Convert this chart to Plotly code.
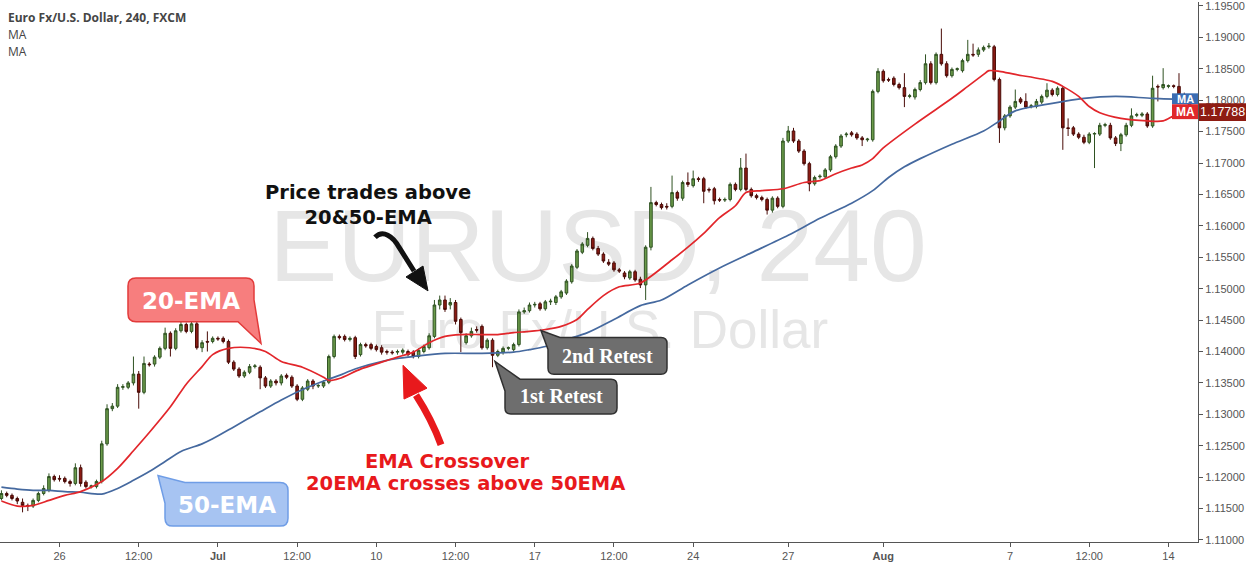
import plotly.graph_objects as go

# ---------------- data (EUR/USD, 4h bars; bar index as x) ----------------
bar_index = list(range(-1, 225))

open_ = [
    1.1166, 1.1174, 1.1171, 1.1166, 1.1160, 1.1155, 1.1154, 1.1163, 1.1174, 1.1179,
    1.1201, 1.1198, 1.1198, 1.1193, 1.1190, 1.1215, 1.1192, 1.1185, 1.1185, 1.1193,
    1.1253, 1.1309, 1.1313, 1.1343, 1.1343, 1.1350, 1.1364, 1.1335, 1.1380, 1.1380,
    1.1391, 1.1405, 1.1429, 1.1405, 1.1433, 1.1443, 1.1432, 1.1444, 1.1406, 1.1416,
    1.1416, 1.1421, 1.1421, 1.1416, 1.1383, 1.1372, 1.1361, 1.1367, 1.1376, 1.1375,
    1.1358, 1.1345, 1.1353, 1.1350, 1.1362, 1.1359, 1.1345, 1.1324, 1.1340, 1.1353,
    1.1345, 1.1345, 1.1351, 1.1392, 1.1424, 1.1424, 1.1419, 1.1422, 1.1395, 1.1411,
    1.1411, 1.1408, 1.1406, 1.1400, 1.1399, 1.1399, 1.1399, 1.1400, 1.1399, 1.1392,
    1.1400, 1.1406, 1.1424, 1.1474, 1.1482, 1.1474, 1.1478, 1.1451, 1.1414, 1.1425,
    1.1435, 1.1440, 1.1406, 1.1418, 1.1394, 1.1399, 1.1405, 1.1403, 1.1411, 1.1463,
    1.1465, 1.1474, 1.1476, 1.1468, 1.1479, 1.1478, 1.1487, 1.1493, 1.1511, 1.1534,
    1.1558, 1.1569, 1.1580, 1.1564, 1.1555, 1.1542, 1.1541, 1.1530, 1.1525, 1.1517,
    1.1527, 1.1515, 1.1506, 1.1566, 1.1637, 1.1634, 1.1631, 1.1631, 1.1653, 1.1644,
    1.1669, 1.1664, 1.1675, 1.1675, 1.1658, 1.1659, 1.1642, 1.1641, 1.1642, 1.1666,
    1.1658, 1.1692, 1.1658, 1.1648, 1.1645, 1.1642, 1.1625, 1.1644, 1.1631, 1.1735,
    1.1751, 1.1735, 1.1719, 1.1699, 1.1667, 1.1678, 1.1678, 1.1689, 1.1710, 1.1727,
    1.1745, 1.1748, 1.1746, 1.1740, 1.1737, 1.1737, 1.1814, 1.1846, 1.1833, 1.1835,
    1.1825, 1.1820, 1.1806, 1.1805, 1.1817, 1.1828, 1.1858, 1.1828, 1.1873, 1.1858,
    1.1839, 1.1849, 1.1847, 1.1863, 1.1873, 1.1873, 1.1880, 1.1885, 1.1885, 1.1833,
    1.1756, 1.1775, 1.1789, 1.1802, 1.1798, 1.1790, 1.1790, 1.1797, 1.1806, 1.1816,
    1.1809, 1.1819, 1.1756, 1.1756, 1.1746, 1.1741, 1.1733, 1.1746, 1.1746, 1.1760,
    1.1760, 1.1740, 1.1731, 1.1745, 1.1760, 1.1776, 1.1776, 1.1778, 1.1759, 1.1822,
    1.1820, 1.1822, 1.1823, 1.1822, 1.1809, 1.1800,
]
high = [
    1.1179, 1.1177, 1.1174, 1.1169, 1.1166, 1.1158, 1.1166, 1.1177, 1.1187, 1.1206,
    1.1204, 1.1203, 1.1201, 1.1196, 1.1222, 1.1220, 1.1195, 1.1188, 1.1196, 1.1258,
    1.1316, 1.1318, 1.1348, 1.1348, 1.1353, 1.1392, 1.1369, 1.1392, 1.1383, 1.1394,
    1.1408, 1.1438, 1.1432, 1.1437, 1.1448, 1.1446, 1.1448, 1.1448, 1.1418, 1.1432,
    1.1424, 1.1424, 1.1424, 1.1419, 1.1386, 1.1375, 1.1370, 1.1380, 1.1380, 1.1378,
    1.1361, 1.1356, 1.1356, 1.1364, 1.1365, 1.1362, 1.1348, 1.1345, 1.1356, 1.1356,
    1.1348, 1.1354, 1.1395, 1.1427, 1.1427, 1.1427, 1.1424, 1.1425, 1.1414, 1.1414,
    1.1414, 1.1411, 1.1410, 1.1403, 1.1402, 1.1403, 1.1405, 1.1403, 1.1402, 1.1405,
    1.1411, 1.1429, 1.1482, 1.1489, 1.1489, 1.1485, 1.1482, 1.1454, 1.1429, 1.1438,
    1.1440, 1.1443, 1.1421, 1.1421, 1.1403, 1.1408, 1.1408, 1.1414, 1.1467, 1.1470,
    1.1478, 1.1479, 1.1479, 1.1482, 1.1484, 1.1490, 1.1498, 1.1515, 1.1539, 1.1563,
    1.1574, 1.1590, 1.1583, 1.1568, 1.1558, 1.1547, 1.1544, 1.1533, 1.1528, 1.1530,
    1.1530, 1.1519, 1.1569, 1.1662, 1.1640, 1.1637, 1.1636, 1.1680, 1.1656, 1.1672,
    1.1685, 1.1688, 1.1678, 1.1678, 1.1661, 1.1662, 1.1645, 1.1645, 1.1669, 1.1669,
    1.1708, 1.1715, 1.1661, 1.1651, 1.1648, 1.1645, 1.1647, 1.1647, 1.1740, 1.1759,
    1.1756, 1.1738, 1.1722, 1.1702, 1.1680, 1.1682, 1.1692, 1.1713, 1.1730, 1.1746,
    1.1749, 1.1751, 1.1749, 1.1743, 1.1740, 1.1817, 1.1851, 1.1849, 1.1836, 1.1838,
    1.1828, 1.1843, 1.1810, 1.1820, 1.1832, 1.1873, 1.1862, 1.1876, 1.1914, 1.1862,
    1.1852, 1.1852, 1.1866, 1.1896, 1.1890, 1.1884, 1.1887, 1.1891, 1.1888, 1.1836,
    1.1778, 1.1792, 1.1817, 1.1805, 1.1811, 1.1794, 1.1802, 1.1809, 1.1827, 1.1819,
    1.1822, 1.1822, 1.1771, 1.1759, 1.1749, 1.1745, 1.1749, 1.1749, 1.1764, 1.1764,
    1.1764, 1.1743, 1.1748, 1.1764, 1.1787, 1.1780, 1.1781, 1.1781, 1.1839, 1.1825,
    1.1851, 1.1825, 1.1825, 1.1843, 1.1812, 1.1803,
]
low = [
    1.1163, 1.1168, 1.1163, 1.1157, 1.1144, 1.1146, 1.1151, 1.1160, 1.1171, 1.1176,
    1.1193, 1.1193, 1.1190, 1.1185, 1.1187, 1.1185, 1.1182, 1.1182, 1.1182, 1.1190,
    1.1250, 1.1305, 1.1310, 1.1339, 1.1340, 1.1346, 1.1309, 1.1332, 1.1376, 1.1376,
    1.1388, 1.1402, 1.1392, 1.1402, 1.1430, 1.1429, 1.1429, 1.1403, 1.1399, 1.1400,
    1.1413, 1.1417, 1.1413, 1.1380, 1.1369, 1.1358, 1.1358, 1.1364, 1.1373, 1.1340,
    1.1342, 1.1342, 1.1346, 1.1346, 1.1356, 1.1342, 1.1321, 1.1321, 1.1337, 1.1340,
    1.1342, 1.1342, 1.1348, 1.1389, 1.1419, 1.1416, 1.1416, 1.1388, 1.1392, 1.1406,
    1.1402, 1.1400, 1.1395, 1.1395, 1.1395, 1.1395, 1.1395, 1.1392, 1.1389, 1.1389,
    1.1397, 1.1403, 1.1421, 1.1467, 1.1463, 1.1467, 1.1443, 1.1399, 1.1411, 1.1422,
    1.1430, 1.1403, 1.1403, 1.1375, 1.1391, 1.1395, 1.1402, 1.1400, 1.1408, 1.1460,
    1.1462, 1.1470, 1.1465, 1.1465, 1.1474, 1.1474, 1.1484, 1.1490, 1.1508, 1.1531,
    1.1555, 1.1566, 1.1561, 1.1552, 1.1541, 1.1536, 1.1527, 1.1525, 1.1515, 1.1514,
    1.1511, 1.1501, 1.1482, 1.1561, 1.1631, 1.1626, 1.1626, 1.1628, 1.1640, 1.1640,
    1.1662, 1.1661, 1.1670, 1.1636, 1.1653, 1.1634, 1.1638, 1.1638, 1.1639, 1.1655,
    1.1655, 1.1655, 1.1645, 1.1642, 1.1639, 1.1618, 1.1621, 1.1628, 1.1628, 1.1732,
    1.1732, 1.1716, 1.1696, 1.1655, 1.1664, 1.1675, 1.1675, 1.1686, 1.1707, 1.1724,
    1.1741, 1.1742, 1.1737, 1.1727, 1.1734, 1.1734, 1.1811, 1.1828, 1.1829, 1.1822,
    1.1817, 1.1789, 1.1803, 1.1801, 1.1814, 1.1825, 1.1825, 1.1825, 1.1855, 1.1836,
    1.1836, 1.1846, 1.1844, 1.1860, 1.1869, 1.1869, 1.1877, 1.1882, 1.1830, 1.1732,
    1.1752, 1.1772, 1.1786, 1.1794, 1.1786, 1.1787, 1.1787, 1.1794, 1.1803, 1.1806,
    1.1806, 1.1721, 1.1743, 1.1743, 1.1738, 1.1730, 1.1730, 1.1692, 1.1743, 1.1757,
    1.1737, 1.1727, 1.1719, 1.1742, 1.1757, 1.1773, 1.1773, 1.1756, 1.1756, 1.1798,
    1.1817, 1.1819, 1.1819, 1.1806, 1.1800, 1.1776,
]
close = [
    1.1174, 1.1171, 1.1166, 1.1162, 1.1155, 1.1154, 1.1163, 1.1174, 1.1182, 1.1201,
    1.1196, 1.1197, 1.1193, 1.1190, 1.1215, 1.1190, 1.1185, 1.1186, 1.1193, 1.1253,
    1.1309, 1.1313, 1.1343, 1.1344, 1.1350, 1.1364, 1.1335, 1.1381, 1.1379, 1.1391,
    1.1405, 1.1429, 1.1405, 1.1433, 1.1443, 1.1432, 1.1444, 1.1406, 1.1414, 1.1415,
    1.1421, 1.1420, 1.1416, 1.1383, 1.1372, 1.1361, 1.1367, 1.1376, 1.1377, 1.1358,
    1.1345, 1.1353, 1.1350, 1.1361, 1.1359, 1.1345, 1.1324, 1.1342, 1.1353, 1.1345,
    1.1346, 1.1351, 1.1392, 1.1424, 1.1422, 1.1419, 1.1421, 1.1392, 1.1411, 1.1409,
    1.1405, 1.1403, 1.1399, 1.1399, 1.1398, 1.1400, 1.1402, 1.1395, 1.1392, 1.1402,
    1.1408, 1.1425, 1.1474, 1.1482, 1.1467, 1.1478, 1.1448, 1.1430, 1.1425, 1.1432,
    1.1434, 1.1406, 1.1418, 1.1394, 1.1400, 1.1405, 1.1406, 1.1411, 1.1463, 1.1465,
    1.1474, 1.1475, 1.1468, 1.1479, 1.1480, 1.1487, 1.1495, 1.1512, 1.1536, 1.1560,
    1.1571, 1.1580, 1.1564, 1.1555, 1.1544, 1.1539, 1.1530, 1.1528, 1.1519, 1.1527,
    1.1514, 1.1506, 1.1566, 1.1637, 1.1634, 1.1629, 1.1630, 1.1653, 1.1644, 1.1669,
    1.1666, 1.1675, 1.1674, 1.1655, 1.1657, 1.1640, 1.1641, 1.1642, 1.1666, 1.1658,
    1.1692, 1.1658, 1.1648, 1.1645, 1.1642, 1.1625, 1.1644, 1.1631, 1.1735, 1.1751,
    1.1735, 1.1719, 1.1699, 1.1667, 1.1677, 1.1679, 1.1689, 1.1710, 1.1727, 1.1743,
    1.1746, 1.1745, 1.1740, 1.1737, 1.1738, 1.1814, 1.1846, 1.1831, 1.1832, 1.1825,
    1.1820, 1.1806, 1.1807, 1.1817, 1.1828, 1.1858, 1.1828, 1.1873, 1.1858, 1.1839,
    1.1849, 1.1850, 1.1863, 1.1873, 1.1872, 1.1880, 1.1884, 1.1886, 1.1833, 1.1756,
    1.1775, 1.1789, 1.1798, 1.1797, 1.1789, 1.1791, 1.1798, 1.1806, 1.1816, 1.1809,
    1.1819, 1.1756, 1.1755, 1.1746, 1.1741, 1.1733, 1.1746, 1.1747, 1.1760, 1.1761,
    1.1740, 1.1731, 1.1745, 1.1760, 1.1775, 1.1777, 1.1778, 1.1759, 1.1819, 1.1821,
    1.1825, 1.1823, 1.1822, 1.1809, 1.1803, 1.17788,
]

ema20_idx = [-1, 2, 5, 8, 11, 14, 18, 21, 24, 27, 31, 34, 37, 39, 42, 46, 49, 52, 56, 60,
             61, 63, 67, 71, 74, 77, 80, 83, 86, 90, 93, 96, 99, 102, 105, 108, 110, 113,
             116, 120, 126, 129, 132, 135, 138, 140, 143, 147, 151, 154, 157, 160, 162,
             164, 166, 172, 179, 182, 185, 186, 188, 191, 198, 200, 203, 205, 207, 211,
             216, 219, 221, 223, 225]
ema20_val = [1.1162, 1.1154, 1.1155, 1.1163, 1.1171, 1.1177, 1.1193, 1.1214, 1.1242, 1.1271,
             1.1312, 1.1348, 1.1376, 1.1395, 1.1405, 1.1406, 1.1400, 1.1384, 1.1375, 1.1359,
             1.1354, 1.1357, 1.1372, 1.1383, 1.1391, 1.1399, 1.1414, 1.1424, 1.1427, 1.1427,
             1.1427, 1.1430, 1.1432, 1.1435, 1.1440, 1.1451, 1.1467, 1.1489, 1.1503, 1.1509,
             1.1546, 1.1566, 1.1588, 1.1613, 1.1632, 1.1653, 1.1656, 1.1659, 1.1669, 1.1672,
             1.1683, 1.1692, 1.1697, 1.1707, 1.1724, 1.1762, 1.1803, 1.1822, 1.1841, 1.1847,
             1.1846, 1.1841, 1.1830, 1.1822, 1.1806, 1.1790, 1.1780, 1.1771, 1.1767, 1.1767,
             1.1775, 1.1781, 1.1786]

ema50_idx = [-1, 2, 5, 8, 11, 14, 18, 21, 24, 27, 30, 33, 37, 39, 43, 48, 52, 57, 61, 63,
             65, 67, 71, 74, 77, 83, 90, 96, 99, 102, 106, 110, 115, 120, 124, 129, 135,
             141, 148, 154, 160, 164, 167, 170, 173, 179, 185, 188, 191, 198, 204, 210,
             217, 225]
ema50_val = [1.1184, 1.1181, 1.1179, 1.1179, 1.1177, 1.1176, 1.1173, 1.1182, 1.1195, 1.1209,
             1.1225, 1.1241, 1.1253, 1.1261, 1.1280, 1.1304, 1.1323, 1.1343, 1.1356, 1.1362,
             1.1369, 1.1375, 1.1384, 1.1389, 1.1392, 1.1397, 1.1397, 1.1399, 1.1403, 1.1408,
             1.1419, 1.1430, 1.1451, 1.1473, 1.1482, 1.1506, 1.1533, 1.1557, 1.1585, 1.1612,
             1.1636, 1.1656, 1.1677, 1.1694, 1.1707, 1.1730, 1.1751, 1.1767, 1.1783, 1.1795,
             1.1803, 1.1806, 1.1803, 1.1801]

x_tick_idx = [10, 25, 40, 55, 70, 85, 100, 115, 130, 148, 166, 190, 205, 220]
x_tick_text = ["26", "12:00", "<b>Jul</b>", "12:00", "10", "12:00", "17", "12:00",
               "24", "27", "<b>Aug</b>", "7", "12:00", "14"]
y_tick_vals = [1.110, 1.115, 1.120, 1.125, 1.130, 1.135, 1.140, 1.145, 1.150, 1.155,
               1.160, 1.165, 1.170, 1.175, 1.180, 1.185, 1.190, 1.195]
y_tick_text = ["1.11000", "1.11500", "1.12000", "1.12500", "1.13000", "1.13500",
               "1.14000", "1.14500", "1.15000", "1.15500", "1.16000", "1.16500",
               "1.17000", "1.17500", "1.18000", "1.18500", "1.19000", "1.19500"]
last_price_text = "1.17788"

assert len(open_) == len(high) == len(low) == len(close) == len(bar_index)

# ---------------- layout helpers (pixel -> paper) ----------------
W, H = 1246, 562
PW, PH = 1198, 544


def pp(x, y):
    return x / PW, 1 - y / PH


def path(cmds, closed=True):
    out = []
    for c in cmds:
        op, pts = c[0], c[1:]
        s = op
        for (x, y) in pts:
            a, b = pp(x, y)
            s += f" {a:.5f},{b:.5f}"
        out.append(s)
    return " ".join(out) + (" Z" if closed else "")


fig = go.Figure()

fig.add_trace(go.Candlestick(
    x=bar_index, open=open_, high=high, low=low, close=close,
    increasing=dict(fillcolor="#6b9b4a", line=dict(color="#2f5222", width=1)),
    decreasing=dict(fillcolor="#8c1b13", line=dict(color="#4a0c08", width=1)),
    whiskerwidth=0, hoverinfo="skip", showlegend=False,
))
fig.add_trace(go.Scatter(x=ema50_idx, y=ema50_val, mode="lines",
                         line=dict(color="#45699f", width=1.7, shape="spline", smoothing=0.8),
                         hoverinfo="skip", showlegend=False))
fig.add_trace(go.Scatter(x=ema20_idx, y=ema20_val, mode="lines",
                         line=dict(color="#e2262b", width=1.7, shape="spline", smoothing=0.8),
                         hoverinfo="skip", showlegend=False))

shapes = []
# watermarks (below traces)
x0, y0 = pp(250, 186); x1, y1 = pp(946, 286)
shapes.append(dict(type="rect", xref="paper", yref="paper", x0=x0, y0=y1, x1=x1, y1=y0,
                   line=dict(width=0), fillcolor="rgba(0,0,0,0)", layer="below",
                   label=dict(text="EURUSD, 240", textposition="middle center",
                              font=dict(family="Liberation Sans, Arial", size=102, color="#e6e6e6"))))
x0, y0 = pp(350, 297); x1, y1 = pp(850, 353)
shapes.append(dict(type="rect", xref="paper", yref="paper", x0=x0, y0=y1, x1=x1, y1=y0,
                   line=dict(width=0), fillcolor="rgba(0,0,0,0)", layer="below",
                   label=dict(text="Euro Fx/U.S. Dollar", textposition="middle center",
                              font=dict(family="Liberation Sans, Arial", size=53, color="#e6e6e6"))))

# 20-EMA callout
shapes.append(dict(type="path", xref="paper", yref="paper", fillcolor="#f77e7e",
                   line=dict(color="#e23b3b", width=1.5),
                   path=path([("M", (136, 278)), ("L", (246, 278)), ("Q", (254, 278), (254, 286)),
                              ("L", (254, 300)), ("L", (261, 344)), ("L", (238, 322)),
                              ("L", (136, 322)), ("Q", (128, 322), (128, 314)),
                              ("L", (128, 286)), ("Q", (128, 278), (136, 278))])))
# 50-EMA callout
shapes.append(dict(type="path", xref="paper", yref="paper", fillcolor="#a7c4f2",
                   line=dict(color="#6f9de6", width=1.5),
                   path=path([("M", (185, 484)), ("L", (280, 484)), ("Q", (288, 484), (288, 492)),
                              ("L", (288, 520)), ("Q", (288, 528), (280, 528)),
                              ("L", (173, 528)), ("Q", (165, 528), (165, 520)),
                              ("L", (165, 505)), ("L", (158, 477)), ("L", (185, 484))])))
# 1st retest
shapes.append(dict(type="path", xref="paper", yref="paper", fillcolor="#6e6e6e",
                   line=dict(color="#303030", width=1.5),
                   path=path([("M", (520, 380)), ("L", (611, 380)), ("Q", (617, 380), (617, 386)),
                              ("L", (617, 409)), ("Q", (617, 415), (611, 415)),
                              ("L", (511, 415)), ("Q", (505, 415), (505, 409)),
                              ("L", (505, 392)), ("L", (495, 362)), ("L", (520, 380))])))
# 2nd retest
shapes.append(dict(type="path", xref="paper", yref="paper", fillcolor="#6e6e6e",
                   line=dict(color="#303030", width=1.5),
                   path=path([("M", (560, 338)), ("L", (661, 338)), ("Q", (667, 338), (667, 344)),
                              ("L", (667, 369)), ("Q", (667, 375), (661, 375)),
                              ("L", (554, 375)), ("Q", (548, 375), (548, 369)),
                              ("L", (548, 350)), ("L", (541, 331)), ("L", (560, 338))])))
# black arrow
shapes.append(dict(type="path", xref="paper", yref="paper", fillcolor="rgba(0,0,0,0)",
                   line=dict(color="#111111", width=5),
                   path=path([("M", (375, 237)), ("C", (383, 229), (393, 236), (399, 247)),
                              ("L", (414, 271))], closed=False)))
shapes.append(dict(type="path", xref="paper", yref="paper", fillcolor="#111111",
                   line=dict(color="#111111", width=1),
                   path=path([("M", (428, 291)), ("L", (406, 277)), ("L", (423, 266))])))
# red arrow
shapes.append(dict(type="path", xref="paper", yref="paper", fillcolor="rgba(0,0,0,0)",
                   line=dict(color="#e8191c", width=7),
                   path=path([("M", (441, 446)), ("Q", (432, 421), (416, 396))], closed=False)))
shapes.append(dict(type="path", xref="paper", yref="paper", fillcolor="#e8191c",
                   line=dict(color="#e8191c", width=1),
                   path=path([("M", (403, 366)), ("L", (427, 389)), ("L", (404, 400))])))
# MA labels and last price label on the right
for (ya, yb, col) in [(92, 103, "#3b6db3"), (103, 118, "#e0272b")]:
    a0, b0 = pp(1172, ya); a1, b1 = pp(1198, yb)
    shapes.append(dict(type="rect", xref="paper", yref="paper", x0=a0, y0=b1, x1=a1, y1=b0,
                       line=dict(width=0), fillcolor=col))
a0, b0 = pp(1199, 102); a1, b1 = pp(1246, 120)
shapes.append(dict(type="rect", xref="paper", yref="paper", x0=a0, y0=b1, x1=a1, y1=b0,
                   line=dict(width=0), fillcolor="#8e1c12"))

annotations = []


def txt(x, y, text, size, color, family="DejaVu Sans", bold=True, xanchor="center"):
    a, b = pp(x, y)
    annotations.append(dict(xref="paper", yref="paper", x=a, y=b, text=(f"<b>{text}</b>" if bold else text),
                            showarrow=False, xanchor=xanchor, yanchor="middle",
                            font=dict(family=family, size=size, color=color)))


txt(6, 16, "Euro Fx/U.S. Dollar, 240, FXCM", 12, "#454545", family="Open Sans", xanchor="left")
txt(6, 33, "MA", 12, "#454545", family="Open Sans", bold=False, xanchor="left")
txt(6, 50, "MA", 12, "#454545", family="Open Sans", bold=False, xanchor="left")

txt(368, 204, "Price trades above<br>20&amp;50-EMA", 19.5, "#111111")
txt(191, 301, "20-EMA", 23, "#ffffff")
txt(227, 507, "50-EMA", 23, "#ffffff")
txt(447, 463, "EMA Crossover", 19.5, "#e8191c")
txt(465, 485, "20EMA crosses above 50EMA", 19.5, "#e8191c")
txt(561, 397, "1st Retest", 20, "#ffffff", family="Liberation Serif")
txt(607, 357, "2nd Retest", 20, "#ffffff", family="Liberation Serif")
txt(1185, 98, "MA", 11, "#ffffff", family="Liberation Sans")
txt(1185, 111, "MA", 12, "#ffffff", family="Liberation Sans")
txt(1222, 111, last_price_text, 12.5, "#ffffff", family="Liberation Sans", bold=False)

y_lo = 1.19563 - 0.000158 * PH
y_hi = 1.19563

fig.update_layout(
    width=W, height=H,
    margin=dict(l=0, r=W - PW, t=0, b=H - PH),
    paper_bgcolor="white", plot_bgcolor="white",
    showlegend=False,
    shapes=shapes, annotations=annotations,
    xaxis=dict(range=[-1.27, 225.6], tickmode="array", tickvals=x_tick_idx, ticktext=x_tick_text,
               showgrid=False, zeroline=False, showline=True, linecolor="#555555", linewidth=1,
               ticks="outside", ticklen=4, tickcolor="#555555",
               tickfont=dict(family="Liberation Sans, Arial", size=11, color="#555555"),
               rangeslider=dict(visible=False), fixedrange=True),
    yaxis=dict(side="right", range=[y_lo, y_hi], tickmode="array", tickvals=y_tick_vals,
               ticktext=y_tick_text, showgrid=False, zeroline=False, showline=True,
               linecolor="#555555", linewidth=1, ticks="outside", ticklen=4, tickcolor="#555555",
               tickfont=dict(family="Liberation Sans, Arial", size=11, color="#555555"),
               ticklabeloverflow="allow", fixedrange=True),
)

fig.write_html("out.html", config={"displayModeBar": False},
               post_script="document.body.style.margin='0px';document.body.style.overflow='hidden';")
